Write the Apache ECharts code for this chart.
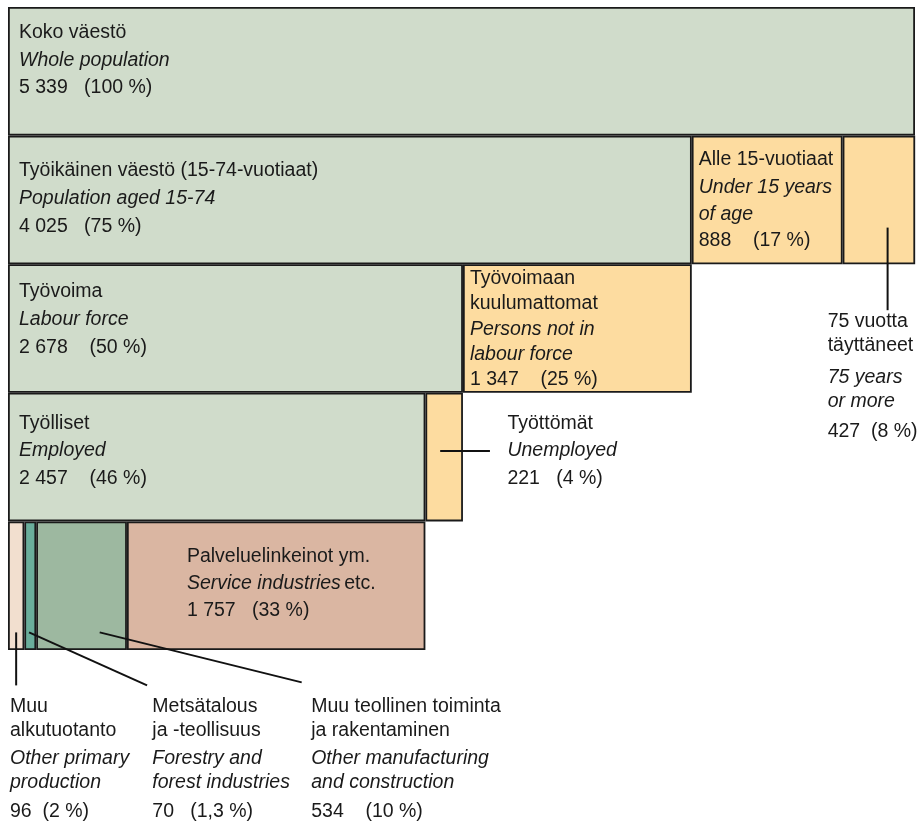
<!DOCTYPE html>
<html><head><meta charset="utf-8">
<script src="https://cdn.jsdelivr.net/npm/echarts@6/dist/echarts.min.js"></script>
<style>html,body{margin:0;padding:0;background:#fff}#c{width:922px;height:829px}</style>
</head><body><div id="c"></div>
<script>
// ---- data (thousands of persons) ----
const rowNames = ['Koko väestö', 'Työikäinen väestö', 'Työvoima', 'Työlliset', 'Toimialat'];
const wholePop = [5339];
const wholePct = ['100'];
const ageGroups = [4025, 888, 427];          // 15-74, under 15, 75+
const ageGroupPct = ['75', '17', '8'];
const labourSplit = [2678, 1347];            // labour force, not in labour force
const labourPct = ['50', '25'];
const employmentSplit = [2457, 221];         // employed, unemployed
const employmentPct = ['46', '4'];
const industries = [96, 70, 534, 1757];      // other primary, forestry, other manuf., services
const industryPct = ['2', '1,3', '10', '33'];

const C = {
  green: '#d0dccb', orange: '#fddca0', primary: '#f2dfcf',
  forest: '#6aae9b', manuf: '#9db8a0', service: '#dab6a2'
};
const FONT = 'Liberation Sans, Arial, sans-serif';
const FS = 19.5;
const INK = '#1a1a1a';

function fmt(n) { return String(n).replace(/\B(?=(\d{3})+(?!\d))/g, ' '); }

// lines: array of strings in rich syntax; spacer lines given as numbers (height)
function makeLabel(lines, lh, dx, dy) {
  const rich = {
    n: { fontFamily: FONT, fontSize: FS, color: INK, lineHeight: lh },
    i: { fontFamily: FONT, fontSize: FS, color: INK, lineHeight: lh, fontStyle: 'italic' }
  };
  const out = [];
  lines.forEach((l, k) => {
    if (typeof l === 'number') {
      rich['s' + k] = { fontSize: 1, lineHeight: l };
      out.push('{s' + k + '| }');
    } else out.push(l);
  });
  return { show: true, position: [dx, dy], align: 'left', verticalAlign: 'top', formatter: out.join('\n'), rich: rich };
}

const seg = [[], [], [], []];
// row 0
seg[0].push({ value: wholePop[0], itemStyle: { color: C.green },
  label: makeLabel(['{n|Koko väestö}', '{i|Whole population}', '{n|' + fmt(wholePop[0]) + '   (' + wholePct[0] + ' %)}'], 27.5, 11, 12) });
seg[1].push('-'); seg[2].push('-'); seg[3].push('-');
// row 1
seg[0].push({ value: ageGroups[0], itemStyle: { color: C.green },
  label: makeLabel(['{n|Työikäinen väestö (15-74-vuotiaat)}', '{i|Population aged 15-74}', '{n|' + fmt(ageGroups[0]) + '   (' + ageGroupPct[0] + ' %)}'], 28, 11, 21) });
seg[1].push({ value: ageGroups[1], itemStyle: { color: C.orange },
  label: makeLabel(['{n|Alle 15-vuotiaat}', '{i|Under 15 years}', '{i|of age}', '{n|' + fmt(ageGroups[1]) + '    (' + ageGroupPct[1] + ' %)}'], 27, 7, 11) });
seg[2].push({ value: ageGroups[2], itemStyle: { color: C.orange },
  label: makeLabel(['{n|75 vuotta}', '{n|täyttäneet}', 8, '{i|75 years}', '{i|or more}', 6, '{n|' + fmt(ageGroups[2]) + '  (' + ageGroupPct[2] + ' %)}'], 24, -15, 174) });
seg[3].push('-');
// row 2
seg[0].push({ value: labourSplit[0], itemStyle: { color: C.green },
  label: makeLabel(['{n|Työvoima}', '{i|Labour force}', '{n|' + fmt(labourSplit[0]) + '    (' + labourPct[0] + ' %)}'], 28, 11, 13) });
seg[1].push({ value: labourSplit[1], itemStyle: { color: C.orange },
  label: makeLabel(['{n|Työvoimaan}', '{n|kuulumattomat}', '{i|Persons not in}', '{i|labour force}', '{n|' + fmt(labourSplit[1]) + '    (' + labourPct[1] + ' %)}'], 25.25, 7, 2) });
seg[2].push('-'); seg[3].push('-');
// row 3
seg[0].push({ value: employmentSplit[0], itemStyle: { color: C.green },
  label: makeLabel(['{n|Työlliset}', '{i|Employed}', '{n|' + fmt(employmentSplit[0]) + '    (' + employmentPct[0] + ' %)}'], 27.5, 11, 17) });
seg[1].push({ value: employmentSplit[1], itemStyle: { color: C.orange },
  label: makeLabel(['{n|Työttömät}', '{i|Unemployed}', '{n|' + fmt(employmentSplit[1]) + '   (' + employmentPct[1] + ' %)}'], 27.5, 82, 17) });
seg[2].push('-'); seg[3].push('-');
// row 4
seg[0].push({ value: industries[0], itemStyle: { color: C.primary },
  label: makeLabel(['{n|Muu}', '{n|alkutuotanto}', 4, '{i|Other primary}', '{i|production}', 5, '{n|' + fmt(industries[0]) + '  (' + industryPct[0] + ' %)}'], 24, 2, 173.6) });
seg[1].push({ value: industries[1], itemStyle: { color: C.forest },
  label: makeLabel(['{n|Metsätalous}', '{n|ja -teollisuus}', 4, '{i|Forestry and}', '{i|forest industries}', 5, '{n|' + fmt(industries[1]) + '   (' + industryPct[1] + ' %)}'], 24, 128, 173.6) });
seg[2].push({ value: industries[2], itemStyle: { color: C.manuf },
  label: makeLabel(['{n|Muu teollinen toiminta}', '{n|ja rakentaminen}', 4, '{i|Other manufacturing}', '{i|and construction}', 5, '{n|' + fmt(industries[2]) + '    (' + industryPct[2] + ' %)}'], 24, 275, 173.6) });
seg[3].push({ value: industries[3], itemStyle: { color: C.service },
  label: makeLabel(['{n|Palveluelinkeinot ym.}', '{i|Service industries} {n|etc.}', '{n|' + fmt(industries[3]) + '   (' + industryPct[3] + ' %)}'], 27, 60, 22) });

const chart = echarts.init(document.getElementById('c'), null, { renderer: 'canvas' });
const option = {
  backgroundColor: '#ffffff',
  animation: false,
  grid: { left: 8, right: 7, top: 7, bottom: 179 },
  xAxis: { type: 'value', min: 0, max: 5339, show: false },
  yAxis: { type: 'category', inverse: true, data: rowNames, show: false },
  series: seg.map((d, k) => ({
    type: 'bar', stack: 'all', data: d, barCategoryGap: 0,
    itemStyle: { borderColor: '#1a1a1a', borderWidth: 1.8 },
    emphasis: { disabled: true }
  }))
};
chart.setOption(option);

// leader lines anchored to the bars
const P = (v, r) => chart.convertToPixel({ gridIndex: 0 }, [v, r]);
const band = P(0, 1)[1] - P(0, 0)[1];
const rowTop = r => P(0, r)[1] - band / 2;
const leaders = [];
function addLine(x1, y1, x2, y2) {
  leaders.push({ type: 'line', shape: { x1, y1, x2, y2 }, style: { stroke: '#111', lineWidth: 2 }, z: 100 });
}
// unemployed
{
  const x = P(employmentSplit[0] + employmentSplit[1] / 2, 3)[0];
  const xEnd = P(employmentSplit[0] + employmentSplit[1], 3)[0];
  const y = rowTop(3) + 17 + 27.5 * 1.5;
  addLine(x - 4, y, xEnd + 27, y);
}
// 75+
{
  const x = P(ageGroups[0] + ageGroups[1] + ageGroups[2] * 0.62, 1)[0];
  addLine(x, rowTop(1) + 92, x, rowTop(2) + 46);
}
// industries
{
  const yb = rowTop(4) + 111, ye = rowTop(4) + 164;
  const x0 = P(industries[0] / 2, 4)[0];
  addLine(x0, yb, x0, ye);
  const x1 = P(industries[0] + industries[1] * 0.4, 4)[0];
  addLine(x1, yb, x1 + 118, ye);
  const x2 = P(industries[0] + industries[1] + industries[2] * 0.7, 4)[0];
  addLine(x2, yb, x2 + 202, ye - 3);
}
chart.setOption({ graphic: leaders });
</script>
</body></html>
